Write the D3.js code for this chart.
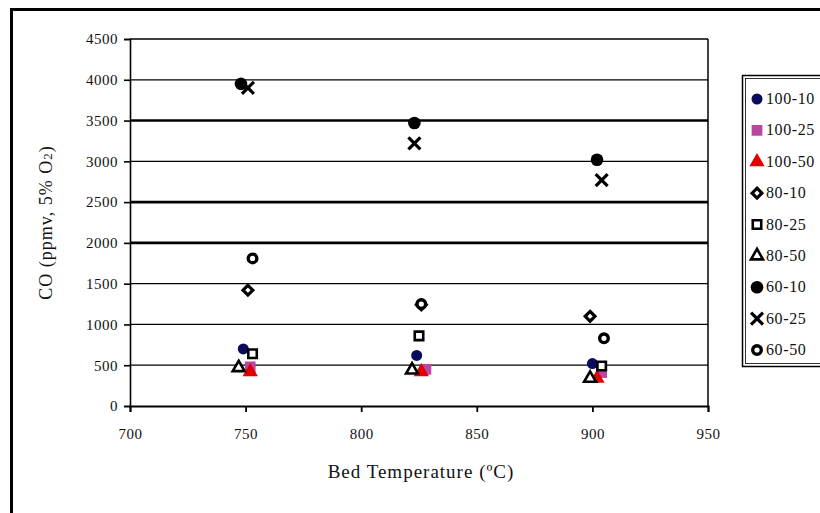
<!DOCTYPE html>
<html>
<head>
<meta charset="utf-8">
<script src="https://cdn.jsdelivr.net/npm/d3@7"></script>
<style>
  html, body { margin: 0; padding: 0; background: #fff; }
  svg { display: block; }
  text { font-family: "Liberation Serif", "Times New Roman", serif; fill: #111; }
</style>
</head>
<body>
<svg id="chart" width="820" height="513"></svg>
<script>
// Series labels (primary air % - secondary air %)
const seriesNames = ["100-10", "100-25", "100-50", "80-10", "80-25", "80-50", "60-10", "60-25", "60-50"];
// Bed temperature (°C) of each measurement, per series
const bedTemps = [
  [749, 824, 900],
  [752, 828, 904],
  [752, 826, 902],
  [751, 826, 899],
  [753, 825, 904],
  [747, 822, 899],
  [748, 823, 902],
  [751, 823, 904],
  [753, 826, 905]
];
// CO concentration (ppmv, 5% O2), per series
const coValues = [
  [700, 620, 520],
  [480, 450, 410],
  [420, 420, 340],
  [1420, 1240, 1100],
  [640, 860, 490],
  [470, 440, 340],
  [3950, 3470, 3020],
  [3900, 3220, 2770],
  [1810, 1250, 830]
];
const xTicks = [700, 750, 800, 850, 900, 950];
const yTicks = [0, 500, 1000, 1500, 2000, 2500, 3000, 3500, 4000, 4500];

// Square turned 45 degrees, same width and height
const symbolRhomb = {
  draw(ctx, size) {
    const r = Math.sqrt(size / 2);
    ctx.moveTo(0, -r); ctx.lineTo(r, 0); ctx.lineTo(0, r); ctx.lineTo(-r, 0); ctx.closePath();
  }
};

// Marker styles for each series
const markerStyle = [
  { type: d3.symbolCircle,   size: 95,  fill: "#0b0b5e", stroke: "none", sw: 0 },
  { type: d3.symbolSquare,   size: 115, fill: "#b8479f", stroke: "none", sw: 0 },
  { type: d3.symbolTriangle, size: 100, fill: "#e00000", stroke: "none", sw: 0 },
  { type: symbolRhomb,       size: 48,  fill: "#fff",    stroke: "#000", sw: 3.2 },
  { type: d3.symbolSquare,   size: 72,  fill: "#fff",    stroke: "#000", sw: 2.6 },
  { type: d3.symbolTriangle, size: 62,  fill: "#fff",    stroke: "#000", sw: 2.6 },
  { type: d3.symbolCircle,   size: 125, fill: "#000",    stroke: "none", sw: 0 },
  { type: d3.symbolTimes,    size: 95,  fill: "none",    stroke: "#000", sw: 3.2 },
  { type: d3.symbolCircle,   size: 58,  fill: "#fff",    stroke: "#000", sw: 3.4 }
];

const svg = d3.select("#chart");
const plot = { left: 130, right: 708, top: 39, bottom: 406 };

const x = d3.scaleLinear().domain([700, 950]).range([plot.left, plot.right]);
const y = d3.scaleLinear().domain([0, 4500]).range([plot.bottom, plot.top]);

// Outer frame
svg.append("path")
  .attr("d", `M11.5,520 V9.5 H830`)
  .attr("fill", "none").attr("stroke", "#000").attr("stroke-width", 3);

// Horizontal gridlines
const gridWidth = { 500: 1.3, 1000: 1.3, 1500: 1.3, 2000: 2.6, 2500: 2.6, 3000: 1.3, 3500: 2.6, 4000: 1.3, 4500: 1.5 };
svg.append("g").selectAll("line")
  .data(yTicks.filter(d => d > 0))
  .join("line")
  .attr("x1", plot.left).attr("x2", plot.right)
  .attr("y1", d => y(d)).attr("y2", d => y(d))
  .attr("stroke", "#000")
  .attr("stroke-width", d => gridWidth[d]);

// Right border of plot area
svg.append("line")
  .attr("x1", plot.right).attr("x2", plot.right)
  .attr("y1", plot.top).attr("y2", plot.bottom)
  .attr("stroke", "#000").attr("stroke-width", 1.5);

// Y axis
const yAxis = svg.append("g")
  .attr("transform", `translate(${plot.left},0)`)
  .call(d3.axisLeft(y).tickValues(yTicks).tickSize(6).tickPadding(6).tickFormat(d3.format("d")));
yAxis.select(".domain").attr("stroke", "#000").attr("stroke-width", 1.6);
yAxis.selectAll(".tick line").attr("stroke", "#000").attr("stroke-width", 1.6);
yAxis.selectAll(".tick text").attr("font-size", 15).attr("fill", "#111")
  .attr("letter-spacing", 0.5)
  .style("font-family", "'Liberation Serif', serif");

// X axis
const xAxis = svg.append("g")
  .attr("transform", `translate(0,${plot.bottom})`)
  .call(d3.axisBottom(x).tickValues(xTicks).tickSize(6).tickPadding(16).tickFormat(d3.format("d")));
xAxis.select(".domain").attr("stroke", "#000").attr("stroke-width", 1.8);
xAxis.selectAll(".tick line").attr("stroke", "#000").attr("stroke-width", 1.8);
xAxis.selectAll(".tick text").attr("font-size", 15).attr("fill", "#111")
  .attr("letter-spacing", 0.5)
  .style("font-family", "'Liberation Serif', serif");

// Axis titles
svg.append("text")
  .attr("transform", `translate(52,${(plot.top + plot.bottom) / 2}) rotate(-90)`)
  .attr("text-anchor", "middle")
  .attr("font-size", 18)
  .attr("letter-spacing", 1)
  .html("CO (ppmv, 5% O<tspan font-size='13'>2</tspan>)");

svg.append("text")
  .attr("x", 421).attr("y", 478)
  .attr("text-anchor", "middle")
  .attr("font-size", 19)
  .attr("letter-spacing", 1)
  .text("Bed Temperature (\u00BAC)");

// Data points
const markers = svg.append("g");
seriesNames.forEach((name, i) => {
  const st = markerStyle[i];
  const pts = bedTemps[i].map((t, j) => ({ t, v: coValues[i][j] }));
  markers.append("g").selectAll("path")
    .data(pts)
    .join("path")
    .attr("transform", d => `translate(${x(d.t)},${y(d.v)})`)
    .attr("d", d3.symbol().type(st.type).size(st.size))
    .attr("fill", st.fill)
    .attr("stroke", st.stroke)
    .attr("stroke-width", st.sw);
});

// Legend
const legend = svg.append("g");
legend.append("rect")
  .attr("x", 742.5).attr("y", 75.5).attr("width", 80).attr("height", 291)
  .attr("fill", "#fff").attr("stroke", "#000").attr("stroke-width", 1.5);
legend.append("rect")
  .attr("x", 745.5).attr("y", 78.5).attr("width", 80).attr("height", 285)
  .attr("fill", "none").attr("stroke", "#000").attr("stroke-width", 0.8);

const legendY = d3.scalePoint().domain(seriesNames).range([99, 350]);
seriesNames.forEach((name, i) => {
  const st = markerStyle[i];
  const g = legend.append("g").attr("transform", `translate(757,${legendY(name)})`);
  g.append("path")
    .attr("d", d3.symbol().type(st.type).size(st.size))
    .attr("fill", st.fill)
    .attr("stroke", st.stroke)
    .attr("stroke-width", st.sw);
  g.append("text")
    .attr("x", 9).attr("y", 5)
    .attr("font-size", 16)
    .attr("letter-spacing", 0.6)
    .text(name);
});
</script>
</body>
</html>
